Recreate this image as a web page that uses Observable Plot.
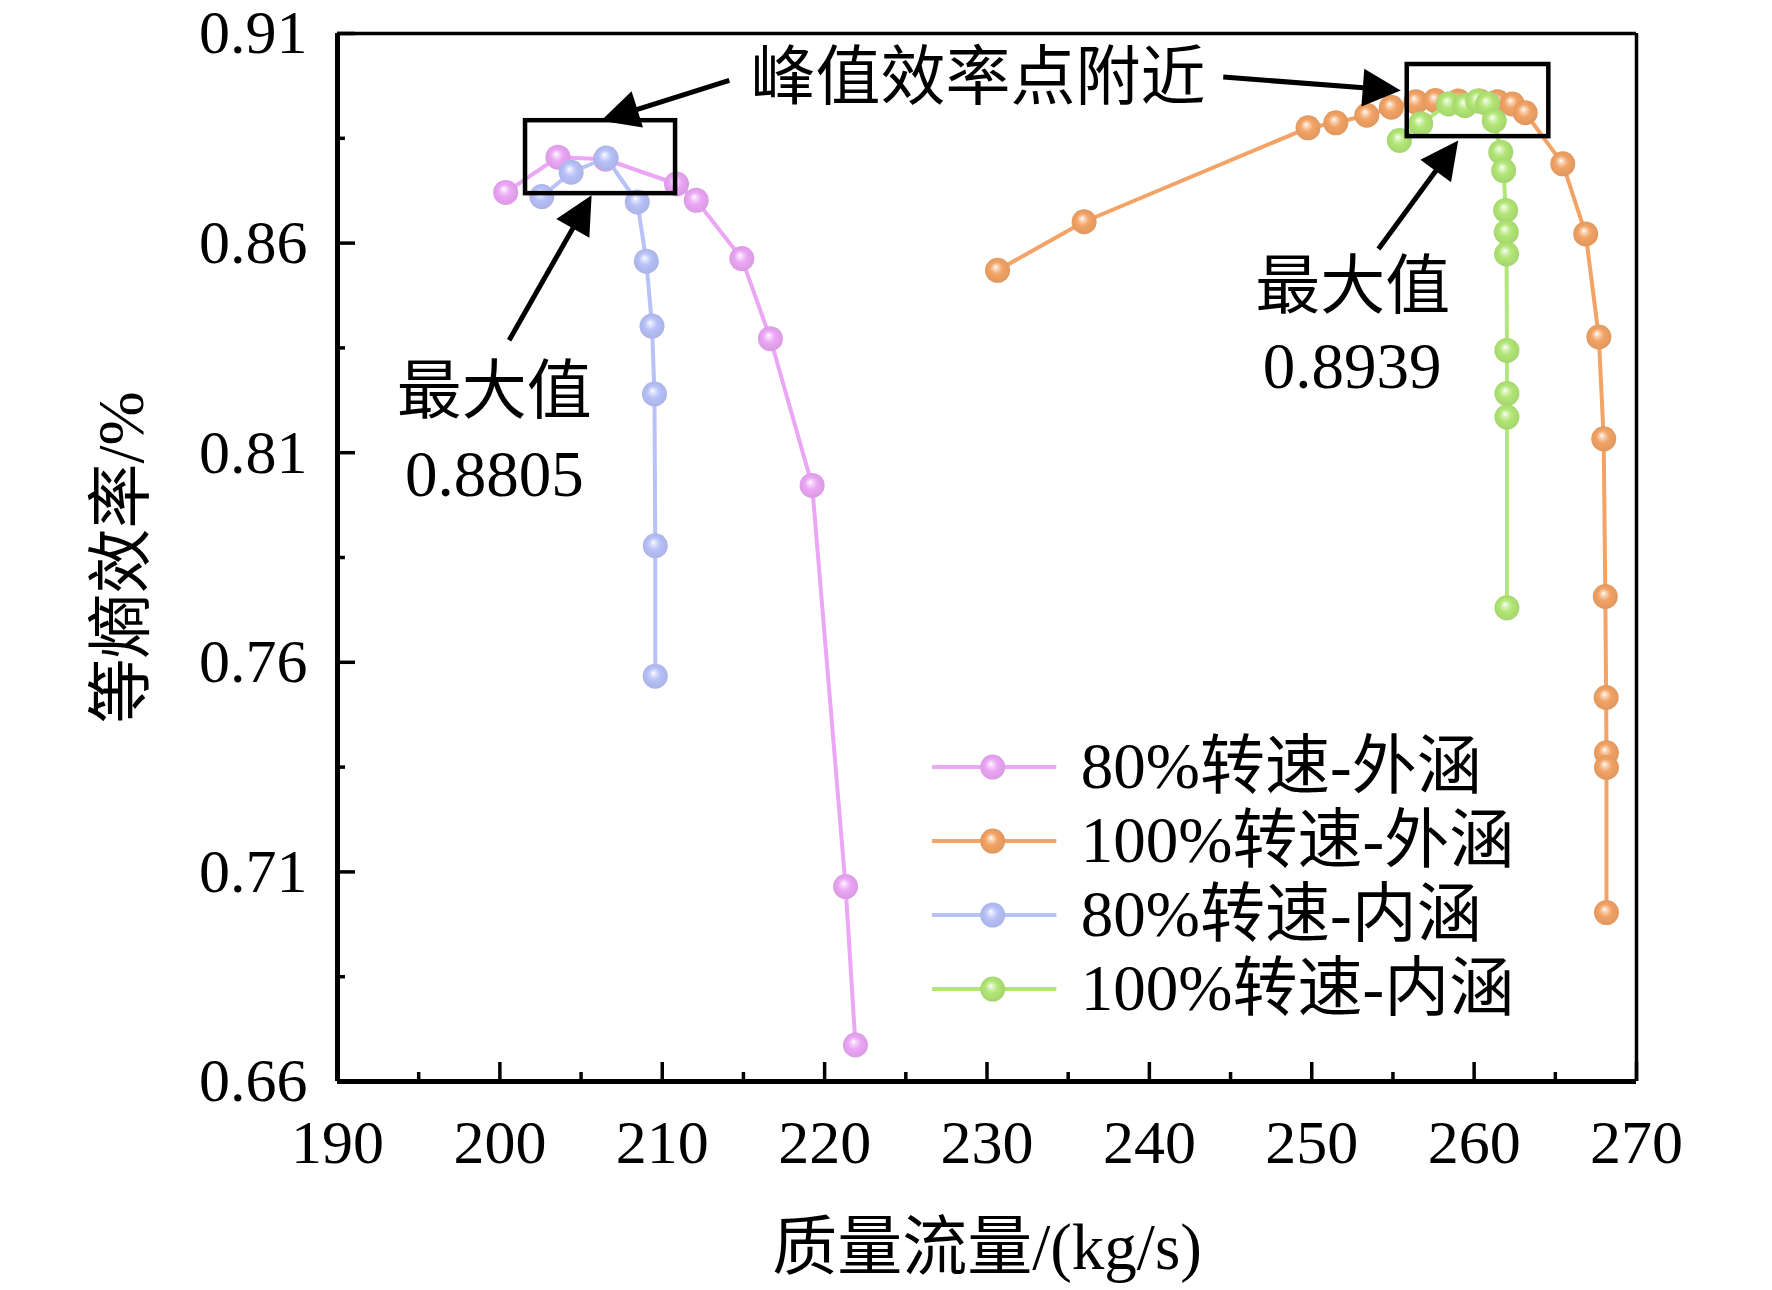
<!DOCTYPE html>
<html><head><meta charset="utf-8">
<script src="https://cdn.jsdelivr.net/npm/d3@7"></script>
<script src="https://cdn.jsdelivr.net/npm/@observablehq/plot@0.6"></script>
<style>body{margin:0;background:#fff}</style>
</head><body><div id="chart"></div>
<script>
// ---- data ----
const seriesNames = ["80%转速-外涵", "100%转速-外涵", "80%转速-内涵", "100%转速-内涵"];
const seriesColors = ["#eba6f5", "#f2a365", "#b8c1f8", "#b2e676"];

const pinkX = [200.36, 203.58, 206.50, 210.88, 212.09, 214.90, 216.66, 219.23, 221.29, 221.90];
const pinkY = [0.8721, 0.8805, 0.8800, 0.8741, 0.8702, 0.8563, 0.8372, 0.8022, 0.7065, 0.6687];

const orangeX = [230.65, 235.98, 249.77, 251.48, 253.39, 254.90, 256.41, 257.61, 259.02, 260.33, 261.44, 262.34, 263.15, 265.46, 266.87, 267.68, 267.98, 268.08, 268.13, 268.15, 268.15, 268.15];
const orangeY = [0.8535, 0.8651, 0.8875, 0.8887, 0.8905, 0.8924, 0.8937, 0.8940, 0.8939, 0.8939, 0.8937, 0.8932, 0.8911, 0.8789, 0.8622, 0.8376, 0.8133, 0.7757, 0.7516, 0.7384, 0.7349, 0.7003];

const blueX = [202.58, 204.39, 206.55, 208.46, 209.02, 209.37, 209.52, 209.57, 209.57];
const blueY = [0.8711, 0.8769, 0.8803, 0.8698, 0.8557, 0.8402, 0.8240, 0.7878, 0.7567];

const greenX = [255.40, 256.71, 258.42, 259.43, 260.23, 260.83, 261.24, 261.64, 261.82, 261.94, 261.98, 262.0, 262.02, 262.02, 262.02, 262.02];
const greenY = [0.8845, 0.8885, 0.8932, 0.8928, 0.8939, 0.8932, 0.8892, 0.8817, 0.8773, 0.8678, 0.8626, 0.8574, 0.8344, 0.8241, 0.8185, 0.7730];

const xTicks = [190, 200, 210, 220, 230, 240, 250, 260, 270];
const xMinor = [195, 205, 215, 225, 235, 245, 255, 265];
const yTicks = [0.66, 0.71, 0.76, 0.81, 0.86, 0.91];
const yMinor = [0.685, 0.735, 0.785, 0.835, 0.885];

const xTitle = "质量流量/(kg/s)";
const yTitle = "等熵效率/%";

// annotations (data units)
const boxX1 = [201.58, 255.88];
const boxX2 = [210.82, 264.60];
const boxY1 = [0.8718, 0.8854];
const boxY2 = [0.8892, 0.9026];

const arrowX1 = [214.13, 244.55, 200.57, 254.11];
const arrowY1 = [0.8988, 0.8996, 0.8368, 0.8586];
const arrowX2 = [206.23, 255.48, 205.65, 259.02];
const arrowY2 = [0.8892, 0.8964, 0.8714, 0.8845];

const noteText = ["峰值效率点附近", "最大值", "0.8805", "最大值", "0.8939"];
const noteX = [229.44, 199.66, 199.66, 252.53, 252.48];
const noteY = [0.8993, 0.8244, 0.8046, 0.8496, 0.8303];

// ---- layout ----
const W = 1772, H = 1290;
const mL = 337, mR = 136, mT = 33, mB = 209;
const xDom = [190, 270], yDom = [0.66, 0.91];
const kx = (W - mL - mR) / (xDom[1] - xDom[0]);
const ky = (H - mT - mB) / (yDom[1] - yDom[0]);

const font = '"Liberation Serif", "Times New Roman", "Noto Sans CJK SC", serif';

const allX = [pinkX, orangeX, blueX, greenX];
const allY = [pinkY, orangeY, blueY, greenY];
const series = allX.map((xs, s) => xs.map((x, i) => ({x, y: allY[s][i]})));
const drawOrder = [0, 1, 2, 3];

const boxes = boxX1.map((x1, i) => ({x1, x2: boxX2[i], y1: boxY1[i], y2: boxY2[i]}));

const headLen = 38, headW = 38;
const arrows = arrowX1.map((x1, i) => {
  const x2 = arrowX2[i], y2 = arrowY2[i], y1 = arrowY1[i];
  const dxp = (x2 - x1) * kx, dyp = (y2 - y1) * ky;
  const L = Math.hypot(dxp, dyp);
  const ux = dxp / L, uy = dyp / L;
  return {
    x1, y1, x2, y2,
    sx2: x2 - ux * (headLen - 4) / kx,
    sy2: y2 - uy * (headLen - 4) / ky,
    angle: Math.atan2(dxp, dyp) * 180 / Math.PI
  };
});
const triShape = {
  draw(ctx, l) {
    ctx.moveTo(0, -l);
    ctx.lineTo(headW / 2, 0);
    ctx.lineTo(-headW / 2, 0);
    ctx.closePath();
  }
};

const notes = noteText.map((t, i) => ({t, x: noteX[i], y: noteY[i]}));

// legend layout
const legX1 = 226.62, legX2 = 234.27, legDot = 230.35, legText = 235.78;
const legTop = 0.735, legStep = 74 / ky;

const marks = [];
// frame
marks.push(Plot.ruleX([xDom[0]], {stroke: "black", strokeWidth: 5}));
marks.push(Plot.ruleX([xDom[1]], {stroke: "black", strokeWidth: 3.5}));
marks.push(Plot.ruleY([yDom[0]], {stroke: "black", strokeWidth: 5}));
marks.push(Plot.ruleY([yDom[1]], {stroke: "black", strokeWidth: 3.5}));
// axes
marks.push(Plot.axisX(xTicks, {anchor: "bottom", tickSize: -19, tickPadding: 56, strokeWidth: 3.5, fontSize: 62, label: null, tickFormat: d3.format("d")}));
marks.push(Plot.axisX(xMinor, {anchor: "bottom", tickSize: -9, strokeWidth: 3.5, label: null, tickFormat: () => ""}));
marks.push(Plot.axisY(yTicks, {anchor: "left", tickSize: -18, tickPadding: 48, strokeWidth: 3.5, fontSize: 62, label: null, tickFormat: d3.format(".2f")}));
marks.push(Plot.axisY(yMinor, {anchor: "left", tickSize: -8, strokeWidth: 3.5, label: null, tickFormat: () => ""}));
// axis titles
marks.push(Plot.text([xTitle], {frameAnchor: "bottom", dy: 167, text: d => d, fontSize: 65, textAnchor: "middle", lineAnchor: "middle"}));
marks.push(Plot.text([yTitle], {frameAnchor: "left", dx: -215, rotate: -90, text: d => d, fontSize: 65, textAnchor: "middle", lineAnchor: "middle"}));

// series
for (const s of drawOrder) {
  marks.push(Plot.line(series[s], {x: "x", y: "y", stroke: seriesColors[s], strokeWidth: 4}));
  marks.push(Plot.dot(series[s], {x: "x", y: "y", r: 12.5, fill: `url(#g${s})`, stroke: "none"}));
}

// boxes + arrows + notes
marks.push(Plot.rect(boxes, {x1: "x1", x2: "x2", y1: "y1", y2: "y2", fill: "none", stroke: "black", strokeWidth: 4.5}));
marks.push(Plot.link(arrows, {x1: "x1", y1: "y1", x2: "sx2", y2: "sy2", stroke: "black", strokeWidth: 5}));
marks.push(Plot.vector(arrows, {x: "x2", y: "y2", rotate: "angle", length: headLen, anchor: "end", shape: triShape, fill: "black", stroke: "none"}));
marks.push(Plot.text(notes, {x: "x", y: "y", text: "t", fontSize: 65, textAnchor: "middle", lineAnchor: "middle"}));

// legend
seriesNames.forEach((name, i) => {
  const ly = legTop - i * legStep;
  marks.push(Plot.link([name], {x1: () => legX1, x2: () => legX2, y1: () => ly, y2: () => ly, stroke: seriesColors[i], strokeWidth: 4}));
  marks.push(Plot.dot([name], {x: () => legDot, y: () => ly, r: 12.5, fill: `url(#g${i})`, stroke: "none"}));
  marks.push(Plot.text([name], {x: () => legText, y: () => ly, text: d => d, fontSize: 65, textAnchor: "start", lineAnchor: "middle"}));
});

const svg = Plot.plot({
  width: W, height: H,
  marginLeft: mL, marginRight: mR, marginTop: mT, marginBottom: mB,
  x: {domain: xDom},
  y: {domain: yDom},
  style: {fontFamily: font, background: "#fff", color: "black", overflow: "visible"},
  marks
});

// sphere-like gradients
const defs = d3.select(svg).insert("defs", ":first-child");
seriesColors.forEach((c, i) => {
  const g = defs.append("radialGradient").attr("id", `g${i}`)
    .attr("cx", "0.5").attr("cy", "0.5").attr("r", "0.55").attr("fx", "0.42").attr("fy", "0.36");
  const light = d3.interpolateRgb(c, "#ffffff")(0.55);
  const dark = d3.color(c).darker(0.25).formatHex();
  g.append("stop").attr("offset", "0%").attr("stop-color", "#ffffff");
  g.append("stop").attr("offset", "16%").attr("stop-color", light);
  g.append("stop").attr("offset", "45%").attr("stop-color", c);
  g.append("stop").attr("offset", "100%").attr("stop-color", dark);
});

document.getElementById("chart").appendChild(svg);
</script>
</body></html>
